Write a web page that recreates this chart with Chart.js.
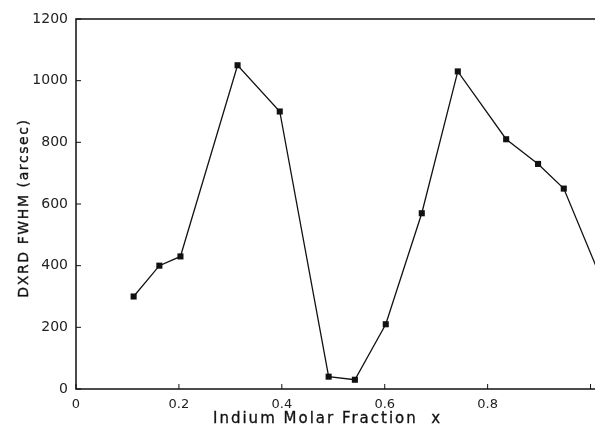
<!DOCTYPE html>
<html>
<head>
<meta charset="utf-8">
<script src="https://cdn.jsdelivr.net/npm/chart.js@4"></script>
<style>
	html, body { margin: 0; padding: 0; background: #fff; overflow: hidden; width: 595px; height: 427px; }
	#wrap { position: absolute; left: 0; top: 0; width: 650px; height: 427px; }
	.title { position: absolute; font-family: "DejaVu Sans", sans-serif; white-space: pre; color: #111; -webkit-text-stroke: 0.3px #111; }
	#xtitle { left: 213px; top: 410px; font-size: 15px; line-height: 16px; letter-spacing: 2px; }
	#ytitle { left: -127px; top: 200px; width: 300px; text-align: center; font-size: 14px; line-height: 16px; letter-spacing: 1.6px; transform: rotate(-90deg); }
</style>
</head>
<body>
<div id="wrap"><canvas id="chart" width="650" height="427"></canvas></div>
<div class="title" id="xtitle">Indium Molar Fraction  x</div>
<div class="title" id="ytitle">DXRD FWHM (arcsec)</div>
<script>
// indium fraction vs. DXRD FWHM (last point lies past the cropped edge)
const fraction = [0.112, 0.162, 0.203, 0.314, 0.396, 0.491, 0.542, 0.602, 0.672, 0.742, 0.836, 0.898, 0.948, 1.03];
const fwhm = [300, 400, 430, 1050, 900, 40, 30, 210, 570, 1030, 810, 730, 650, 320];
const xTicks = [0, 0.2, 0.4, 0.6, 0.8, 1.0];
const xTickLabels = ["0", "0.2", "0.4", "0.6", "0.8", ""];
const yTicks = [0, 200, 400, 600, 800, 1000, 1200];

// frame + inward tick marks
const frame = {
	id: "frame",
	afterDatasetsDraw(chart) {
		const { ctx, chartArea: a, scales: { x, y } } = chart;
		ctx.save();
		ctx.strokeStyle = "#111";
		ctx.lineWidth = 1.5;
		ctx.strokeRect(a.left, a.top, a.right - a.left, a.bottom - a.top);
		ctx.lineWidth = 1;
		ctx.beginPath();
		for (const t of x.ticks) {
			const px = x.getPixelForValue(t.value);
			ctx.moveTo(px, a.bottom);
			ctx.lineTo(px, a.bottom - 5);
		}
		for (const t of y.ticks) {
			const py = y.getPixelForValue(t.value);
			ctx.moveTo(a.left, py);
			ctx.lineTo(a.left + 5, py);
		}
		ctx.stroke();
		ctx.restore();
	}
};

new Chart(document.getElementById("chart"), {
	type: "line",
	data: {
		datasets: [{
			data: fraction.map((v, i) => ({ x: v, y: fwhm[i] })),
			borderColor: "#111",
			borderWidth: 1.3,
			pointStyle: "rect",
			pointRadius: 4.3,
			pointBackgroundColor: "#111",
			pointBorderWidth: 0,
			tension: 0
		}]
	},
	options: {
		responsive: false,
		animation: false,
		devicePixelRatio: 1,
		layout: { padding: { top: 19, right: 8, left: 0, bottom: 0 } },
		plugins: { legend: { display: false }, tooltip: { enabled: false } },
		scales: {
			x: {
				type: "linear",
				min: 0,
				max: 1.1,
				afterBuildTicks: s => { s.ticks = xTicks.map(v => ({ value: v })); },
				afterFit: s => { s.height = 38; },
				grid: { display: false, drawTicks: false },
				border: { display: false },
				ticks: {
					callback: (v, i) => xTickLabels[i],
					font: { family: "DejaVu Sans", size: 13 },
					color: "#222",
					padding: 8,
					maxRotation: 0,
					autoSkip: false
				}
			},
			y: {
				min: 0,
				max: 1200,
				afterBuildTicks: s => { s.ticks = yTicks.map(v => ({ value: v })); },
				afterFit: s => { s.width = 76; },
				grid: { display: false, drawTicks: false },
				border: { display: false },
				ticks: {
					callback: v => String(v),
					font: { family: "DejaVu Sans", size: 14 },
					color: "#222",
					padding: 8
				}
			}
		}
	},
	plugins: [frame]
});
</script>
</body>
</html>
